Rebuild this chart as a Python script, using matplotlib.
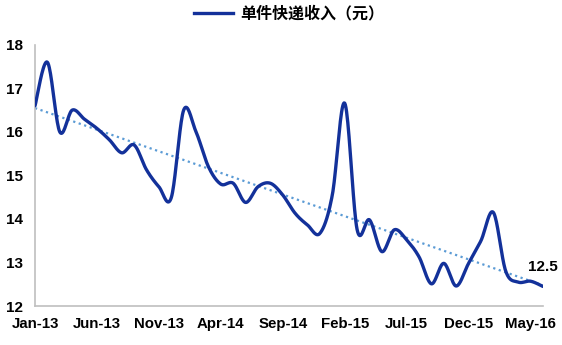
import numpy as np
import pandas as pd
import matplotlib
matplotlib.use("Agg")
import matplotlib.pyplot as plt
from matplotlib.lines import Line2D

plt.rcParams['font.family'] = ['Liberation Sans', 'Noto Sans CJK SC', 'DejaVu Sans']

# ---- data ----
months = pd.date_range('2013-01-01', periods=42, freq='MS').strftime('%b-%y').tolist()
values = [16.6, 17.6, 16.0, 16.5, 16.29, 16.08, 15.82, 15.52, 15.7, 15.13,
          14.74, 14.49, 16.5, 16.0, 15.2, 14.8, 14.82, 14.38, 14.74, 14.82,
          14.55, 14.13, 13.86, 13.67, 14.55, 16.66, 13.76, 13.98, 13.25, 13.75,
          13.52, 13.13, 12.51, 12.98, 12.46, 12.98, 13.5, 14.15, 12.8, 12.55,
          12.57, 12.45]
series_name = '单件快递收入（元）'
last_label = '12.5'
yticks = [12, 13, 14, 15, 16, 17, 18]
label_step = 5


def smooth(xs, ys, n=20):
    xs = np.asarray(xs, float)
    ys = np.asarray(ys, float)
    px = np.concatenate([[xs[0]], xs, [xs[-1]]])
    py = np.concatenate([[ys[0]], ys, [ys[-1]]])
    ox, oy = [], []
    t = np.linspace(0, 1, n, endpoint=False)
    for k in range(1, len(px) - 2):
        p0 = np.array([px[k - 1], py[k - 1]])
        p1 = np.array([px[k], py[k]])
        p2 = np.array([px[k + 1], py[k + 1]])
        p3 = np.array([px[k + 2], py[k + 2]])
        c1 = p1 + (p2 - p0) / 6
        c2 = p2 - (p3 - p1) / 6
        b = ((1 - t) ** 3)[:, None] * p1 + (3 * (1 - t) ** 2 * t)[:, None] * c1 \
            + (3 * (1 - t) * t ** 2)[:, None] * c2 + (t ** 3)[:, None] * p2
        ox.extend(b[:, 0]); oy.extend(b[:, 1])
    ox.append(xs[-1]); oy.append(ys[-1])
    return np.array(ox), np.array(oy)


x = np.arange(len(values))
sx, sy = smooth(x, values)

fig = plt.figure(figsize=(5.62, 3.45), dpi=100)
ax = fig.add_axes([0.0623, 0.113, 0.9037, 0.757])

line_color = '#13319A'
ax.plot(sx, sy, color=line_color, lw=2.4, solid_capstyle='round', zorder=3)

coef = np.polyfit(x, values, 1)
ax.plot(x, np.polyval(coef, x), color='#5B9BD5', lw=1.6, ls=(0, (1, 1.6)), zorder=2)

ax.set_xlim(0, len(values) - 1)
ax.set_ylim(12, 18)
ax.set_yticks(yticks)
ax.set_yticklabels([str(v) for v in yticks], fontsize=11, fontweight='bold')
tick_pos = list(range(0, len(values), label_step))
ax.set_xticks(tick_pos)
ax.set_xticklabels([months[i] for i in tick_pos], fontsize=10.8, fontweight='bold')
ax.tick_params(axis='both', length=0, colors='#000000')
ax.tick_params(axis='y', pad=9)
ax.tick_params(axis='x', pad=8)

for s in ['top', 'right']:
    ax.spines[s].set_visible(False)
for s in ['left', 'bottom']:
    ax.spines[s].set_color('#BFBFBF')
    ax.spines[s].set_linewidth(1.2)

ax.annotate(last_label, xy=(x[-1], values[-1]), xytext=(0, 9), textcoords='offset points',
            ha='center', va='bottom', fontsize=11, fontweight='bold', annotation_clip=False)

handle = Line2D([], [], color=line_color, lw=2.4)
fig.legend([handle], [series_name], loc='upper center', bbox_to_anchor=(0.515, 1.025),
           frameon=False, handlelength=2.4, handletextpad=0.5,
           prop={'family': ['Noto Sans CJK SC'], 'size': 11.5, 'weight': 'bold'})

fig.savefig('out.png', dpi=100)
